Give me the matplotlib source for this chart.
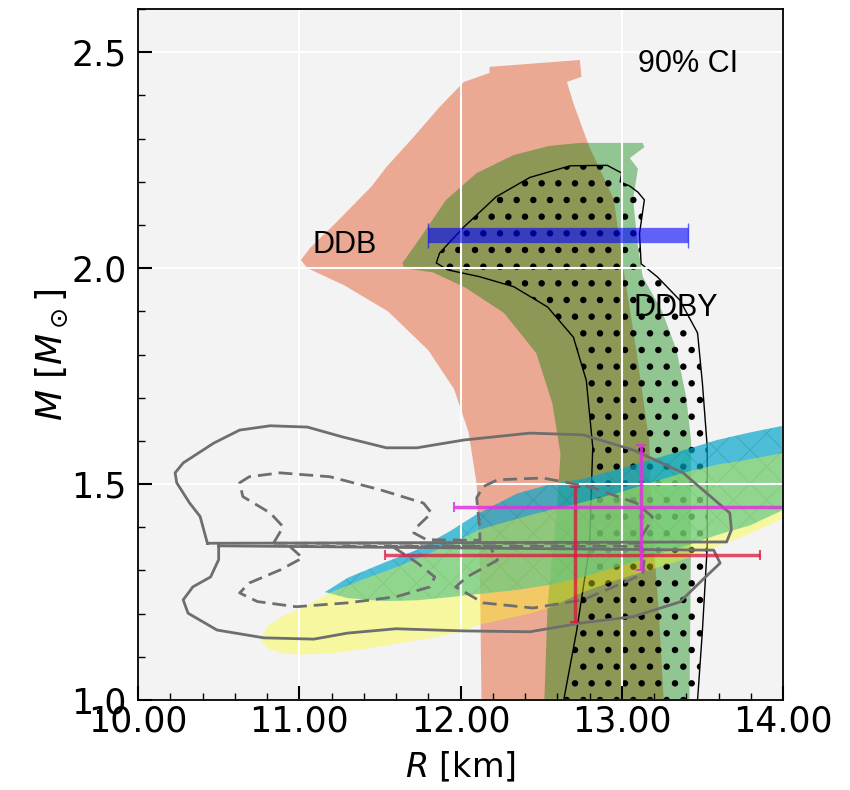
import numpy as np
import matplotlib
matplotlib.use("Agg")
import matplotlib.pyplot as plt
from matplotlib.ticker import MultipleLocator, FormatStrFormatter

# DDB band (closed outline, R in km, M in Msun)
ddb_R = [12.13, 12.12, 12.1, 12.05, 11.96, 11.8, 11.55, 11.28, 11.05, 11.01,
         11.07, 11.23, 11.45, 11.54, 11.71, 11.87, 12.02, 12.18, 12.18, 12.74,
         12.75, 12.66, 12.7, 12.76, 12.8, 12.95, 13.01, 13.09, 13.17, 13.19,
         13.23, 13.26]
ddb_M = [1.0, 1.3, 1.5, 1.62, 1.72, 1.81, 1.9, 1.96, 2.0, 2.019,
         2.048, 2.106, 2.19, 2.234, 2.304, 2.373, 2.431, 2.452, 2.466, 2.482,
         2.443, 2.431, 2.382, 2.32, 2.28, 2.16, 2.0, 1.81, 1.6, 1.4,
         1.2, 1.0]

# DDBY band
ddby_R = [12.52, 12.54, 12.6, 12.62, 12.57, 12.47, 12.27, 12.03, 11.83, 11.65,
          11.64, 11.75, 11.91, 12.1, 12.33, 12.55, 12.74, 13.13, 13.14, 13.05,
          13.1, 13.07, 13.1, 13.13, 13.25, 13.34, 13.4, 13.43, 13.43, 13.42]
ddby_M = [1.0, 1.22, 1.453, 1.57, 1.686, 1.803, 1.896, 1.955, 1.99, 2.0,
          2.012, 2.07, 2.158, 2.22, 2.262, 2.283, 2.29, 2.29, 2.28, 2.255,
          2.23, 2.16, 2.05, 1.98, 1.9, 1.81, 1.7, 1.6, 1.4, 1.0]

# dotted band
dot_R = [12.64, 12.72, 12.8, 12.82, 12.78, 12.70, 12.54, 12.33, 12.12, 11.92,
         11.85, 11.87, 12.02, 12.22, 12.43, 12.68, 12.91, 13.0, 12.99, 13.05,
         13.1, 13.14, 13.11, 13.12, 13.22, 13.36, 13.47, 13.5, 13.53, 13.53,
         13.5, 13.47]
dot_M = [1.0, 1.16, 1.355, 1.586, 1.74, 1.84, 1.91, 1.957, 1.98, 1.996,
         2.012, 2.035, 2.095, 2.165, 2.21, 2.237, 2.238, 2.22, 2.2, 2.19,
         2.176, 2.158, 2.08, 2.01, 1.98, 1.926, 1.85, 1.734, 1.586, 1.355,
         1.16, 1.0]

# cyan (hatched) band
cyan_R = [11.16, 11.3, 11.52, 11.73, 11.93, 12.1, 12.35, 12.56, 12.76, 12.97,
          13.18, 13.38, 13.59, 13.8, 14.0, 14.1]
cyan_hi = [1.25, 1.283, 1.317, 1.348, 1.39, 1.43, 1.478, 1.5, 1.512, 1.534,
           1.556, 1.578, 1.602, 1.62, 1.635, 1.645]
cyan_lo = [1.25, 1.236, 1.229, 1.231, 1.238, 1.245, 1.255, 1.267, 1.285, 1.308,
           1.332, 1.355, 1.382, 1.405, 1.44, 1.455]

# yellow band
yel_R = [10.76, 10.8, 10.9, 11.0, 11.2, 11.4, 11.6, 11.81, 12.0, 12.12,
         12.43, 12.56, 12.76, 12.97, 13.11, 13.38, 13.59, 13.73, 14.0, 14.1]
yel_hi = [1.14, 1.17, 1.195, 1.21, 1.25, 1.28, 1.307, 1.34, 1.372, 1.395,
          1.428, 1.44, 1.458, 1.479, 1.495, 1.526, 1.545, 1.553, 1.572, 1.58]
yel_lo = [1.14, 1.12, 1.108, 1.105, 1.108, 1.118, 1.13, 1.143, 1.158, 1.175,
          1.2, 1.215, 1.25, 1.278, 1.294, 1.325, 1.355, 1.375, 1.42, 1.435]

# GW170817 contours, 90% (solid) and 50% (dashed), heavy / light star
heavy90_R = [10.43, 10.385, 10.32, 10.24, 10.23, 10.28, 10.47, 10.63, 10.82, 11.05,
             11.27, 11.54, 11.73, 12.02, 12.43, 12.76, 13.07, 13.38, 13.67, 13.68,
             13.65, 10.43]
heavy90_M = [1.363, 1.425, 1.456, 1.503, 1.526, 1.549, 1.595, 1.625, 1.635, 1.632,
             1.609, 1.584, 1.584, 1.602, 1.618, 1.614, 1.579, 1.526, 1.433, 1.394,
             1.366, 1.363]
light90_R = [10.5, 10.5, 10.45, 10.34, 10.28, 10.31, 10.49, 10.78, 11.09, 11.3,
             11.6, 12.02, 12.43, 12.76, 13.07, 13.36, 13.5, 13.61, 13.57, 10.5]
light90_M = [1.357, 1.325, 1.285, 1.262, 1.232, 1.201, 1.162, 1.144, 1.141, 1.155,
             1.165, 1.16, 1.158, 1.179, 1.193, 1.227, 1.278, 1.317, 1.347, 1.357]
heavy50_R = [10.84, 10.9, 10.82, 10.65, 10.63, 10.69, 10.88, 11.19, 11.5, 11.77,
             11.82, 11.73, 11.71, 11.79, 12.12, 12.12, 12.1, 12.14, 12.23, 12.51,
             12.8, 13.09, 13.19, 13.16, 13.11, 13.12, 10.84]
heavy50_M = [1.363, 1.401, 1.433, 1.471, 1.503, 1.517, 1.526, 1.517, 1.487, 1.456,
             1.433, 1.401, 1.387, 1.371, 1.37, 1.394, 1.468, 1.494, 1.51, 1.514,
             1.494, 1.456, 1.424, 1.401, 1.371, 1.363, 1.363]
light50_R = [10.94, 11.02, 10.88, 10.69, 10.63, 10.74, 10.98, 11.3, 11.6, 11.81,
             11.84, 11.73, 11.58, 12.18, 12.23, 12.04, 11.97, 12.14, 12.45, 12.76,
             13.05, 13.13, 13.14, 13.12, 10.94]
light50_M = [1.356, 1.329, 1.301, 1.271, 1.248, 1.228, 1.216, 1.225, 1.239, 1.262,
             1.285, 1.318, 1.355, 1.356, 1.324, 1.285, 1.262, 1.225, 1.213, 1.232,
             1.278, 1.292, 1.33, 1.356, 1.356]

# pulsar measurements: R, M with (low, high) errors
j0740_R, j0740_M, j0740_Rerr = 12.6, 2.076, (0.8, 0.81)
riley_R, riley_M, riley_Rerr, riley_Merr = 12.71, 1.336, (1.18, 1.15), (0.155, 0.158)
miller_R, miller_M, miller_Rerr, miller_Merr = 13.12, 1.447, (1.16, 1.14), (0.147, 0.144)

fig = plt.figure(figsize=(8.5, 7.9), dpi=100)
ax = fig.add_axes([0.1624, 0.1139, 0.7588, 0.8747])
ax.set_facecolor('#f3f3f3')

ax.fill(ddb_R, ddb_M, color='darksalmon', alpha=0.8, lw=0)
ax.fill(ddby_R, ddby_M, color='green', alpha=0.4, lw=0)
with plt.rc_context({'hatch.linewidth': 2.2}):
    ax.fill(dot_R, dot_M, facecolor='none', edgecolor='k', hatch='.', lw=1)

with plt.rc_context({'hatch.linewidth': 0.8}):
    ax.fill_between(cyan_R, cyan_lo, cyan_hi, facecolor=(0.0, 0.65, 0.8, 0.68),
                    edgecolor=(0.1, 0.45, 0.45, 0.25), hatch='x', lw=0)
ax.fill_between(yel_R, yel_lo, yel_hi, facecolor=(1.0, 1.0, 0.1, 0.38), lw=0)

ax.plot(heavy90_R, heavy90_M, color='#6e6e6e', lw=2)
ax.plot(light90_R, light90_M, color='#6e6e6e', lw=2)
ax.plot(heavy50_R, heavy50_M, color='#6e6e6e', lw=2, ls=(0, (5, 2.5)))
ax.plot(light50_R, light50_M, color='#6e6e6e', lw=2, ls=(0, (5, 2.5)))

ax.errorbar(j0740_R, j0740_M, xerr=[[j0740_Rerr[0]], [j0740_Rerr[1]]], fmt='none',
            ecolor='blue', elinewidth=11, capsize=9, capthick=1, alpha=0.6)
ax.errorbar(riley_R, riley_M, xerr=[[riley_Rerr[0]], [riley_Rerr[1]]],
            yerr=[[riley_Merr[0]], [riley_Merr[1]]], fmt='none', ecolor='crimson',
            elinewidth=2.5, capsize=3.5, capthick=1.5, alpha=0.75)
ax.errorbar(miller_R, miller_M, xerr=[[miller_Rerr[0]], [miller_Rerr[1]]],
            yerr=[[miller_Merr[0]], [miller_Merr[1]]], fmt='none', ecolor=(0.87, 0.2, 0.87),
            elinewidth=2.5, capsize=3.5, capthick=1.5, alpha=0.85)

txt = dict(fontsize=22, family='Liberation Sans')
ax.text(11.08, 2.035, 'DDB', **txt)
ax.text(13.07, 1.89, 'DDBY', **txt)
ax.text(13.1, 2.455, '90% CI', **txt)

ax.set_xlim(10, 14)
ax.set_ylim(1.0, 2.6)
ax.xaxis.set_major_locator(MultipleLocator(1))
ax.xaxis.set_minor_locator(MultipleLocator(0.2))
ax.yaxis.set_major_locator(MultipleLocator(0.5))
ax.yaxis.set_minor_locator(MultipleLocator(0.1))
ax.xaxis.set_major_formatter(FormatStrFormatter('%.2f'))
ax.yaxis.set_major_formatter(FormatStrFormatter('%.1f'))
ax.tick_params(which='both', direction='in', labelsize=25)
ax.tick_params(which='major', length=10, width=1.5, pad=3)
ax.tick_params(axis='y', which='major', pad=8)
ax.tick_params(which='minor', length=5, width=1)
ax.grid(True, which='major', color='white', lw=1.5)
ax.set_axisbelow('line')
for s in ax.spines.values():
    s.set_linewidth(1.3)

ax.set_xlabel(r'$R$ [km]', fontsize=24, labelpad=9)
ax.set_ylabel(r'$M$ [$M_\odot$]', fontsize=26, labelpad=1)

fig.savefig('out.png', dpi=100)
